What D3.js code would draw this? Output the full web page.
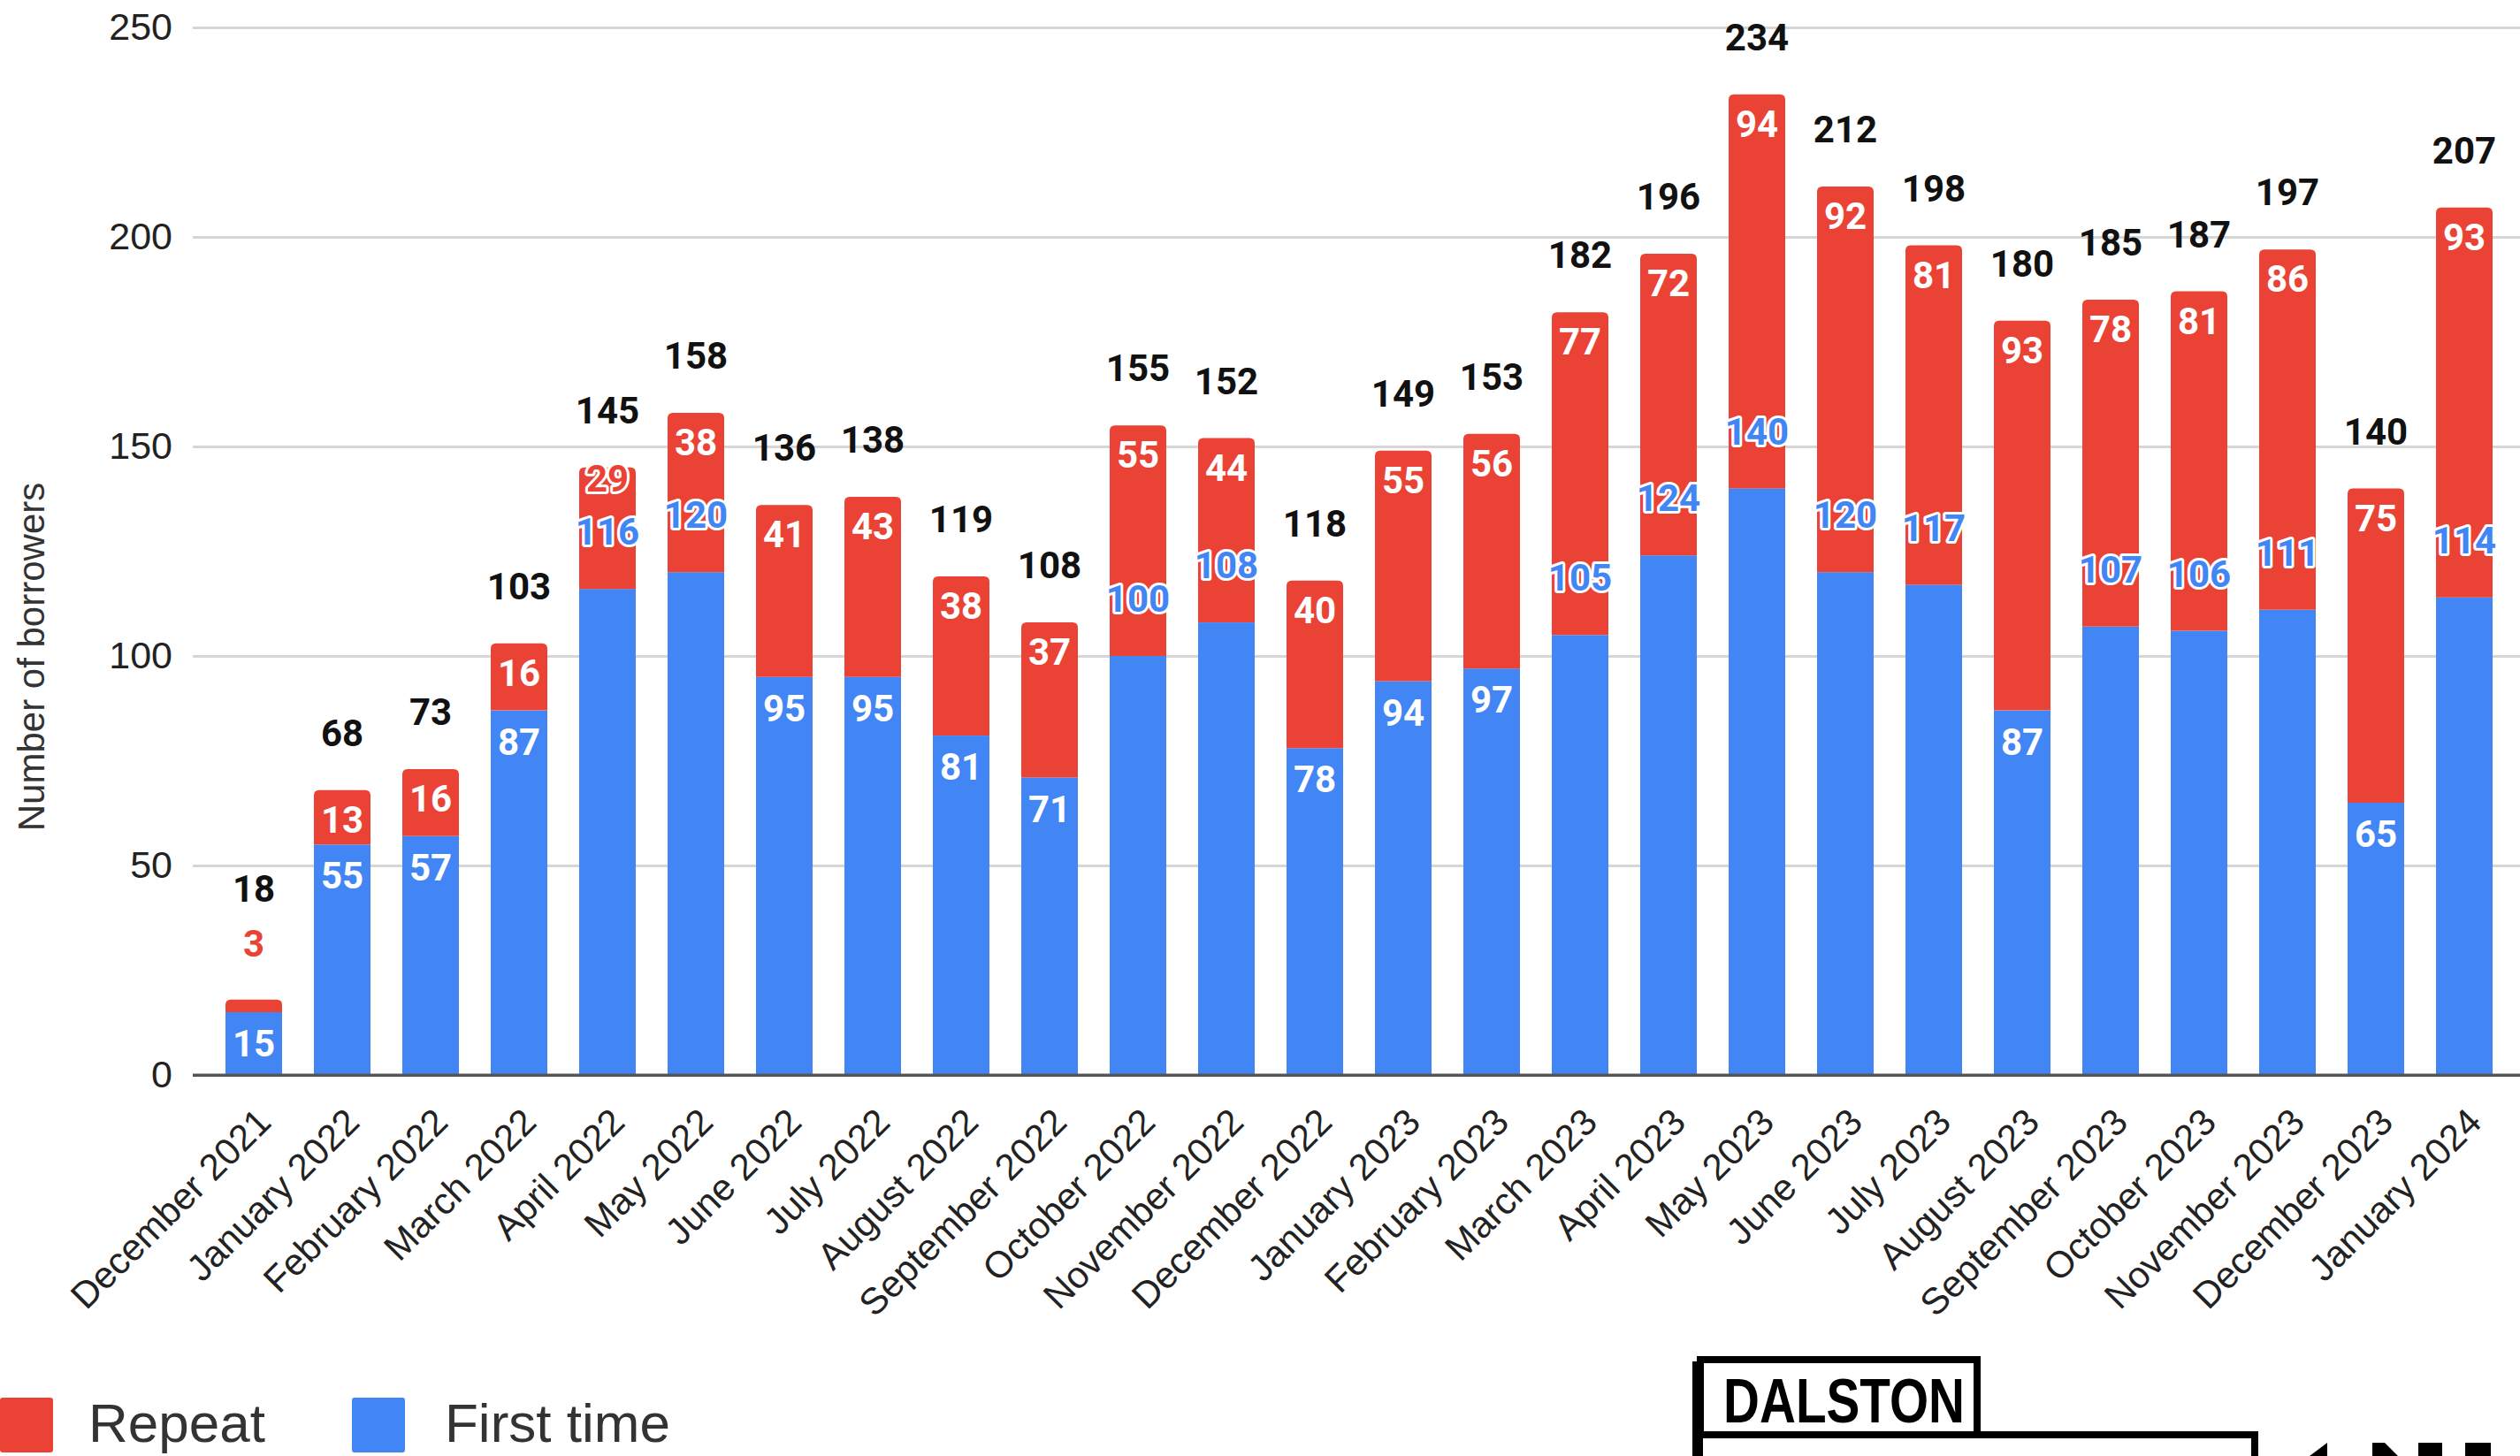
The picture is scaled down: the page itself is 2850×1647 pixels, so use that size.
<!DOCTYPE html>
<html>
<head>
<meta charset="utf-8">
<script src="https://cdn.jsdelivr.net/npm/d3@7"></script>
<style>
  html, body { margin: 0; padding: 0; background: #fff; }
  svg { display: block; }
</style>
</head>
<body>
<svg id="chart" width="2850" height="1647"></svg>
<script>
// Monthly borrowers, split into first-time and repeat borrowers
const months = [
  "December 2021", "January 2022", "February 2022", "March 2022", "April 2022",
  "May 2022", "June 2022", "July 2022", "August 2022", "September 2022",
  "October 2022", "November 2022", "December 2022", "January 2023", "February 2023",
  "March 2023", "April 2023", "May 2023", "June 2023", "July 2023",
  "August 2023", "September 2023", "October 2023", "November 2023", "December 2023",
  "January 2024"
];
const firstTime = [15, 55, 57, 87, 116, 120, 95, 95, 81, 71, 100, 108, 78, 94, 97, 105, 124, 140, 120, 117, 87, 107, 106, 111, 65, 114];
const repeat    = [3, 13, 16, 16, 29, 38, 41, 43, 38, 37, 55, 44, 40, 55, 56, 77, 72, 94, 92, 81, 93, 78, 81, 86, 75, 93];
const yTicks = [0, 50, 100, 150, 200, 250];
const seriesNames = ["Repeat", "First time"];

const RED = "#EA4335", BLUE = "#4285F4";
const W = 2850, H = 1647;
const plotLeft = 218, plotBottom = 1216, plotTop = 31;
const LABEL_SIZE = 42;

const svg = d3.select("#chart");

const x = d3.scaleBand().domain(months)
  .range([plotLeft, 2856]).paddingInner(0.36).paddingOuter(0.37);
const y = d3.scaleLinear().domain([0, 250]).range([plotBottom, plotTop]);

// gridlines + y tick labels
const yAxis = svg.append("g").attr("transform", `translate(${plotLeft},0)`)
  .call(d3.axisLeft(y).tickValues(yTicks).tickSize(-(W - plotLeft)).tickPadding(23));
yAxis.select(".domain").remove();
yAxis.selectAll(".tick line")
  .attr("stroke", d => d === 0 ? "#555" : "#d6d6d6")
  .attr("stroke-width", 3);
yAxis.selectAll(".tick text")
  .attr("font-family", "'Liberation Sans', Arial, sans-serif")
  .attr("font-size", 43).attr("fill", "#222");

// y axis title
svg.append("text")
  .attr("transform", "translate(35,743) rotate(-90)")
  .attr("text-anchor", "middle").attr("dy", "0.36em")
  .attr("font-family", "'Liberation Sans', Arial, sans-serif")
  .attr("font-size", 42).attr("fill", "#333")
  .text("Number of borrowers");

// rows derived from the arrays
const rows = months.map((m, i) => ({
  month: m, first: firstTime[i], rep: repeat[i], total: firstTime[i] + repeat[i]
}));

// rectangle with rounded top corners
function topRounded(x0, y0, w, h, r) {
  r = Math.min(r, h, w / 2);
  return `M${x0},${y0 + h}V${y0 + r}Q${x0},${y0} ${x0 + r},${y0}H${x0 + w - r}Q${x0 + w},${y0} ${x0 + w},${y0 + r}V${y0 + h}Z`;
}

const bw = x.bandwidth();
const bars = svg.append("g");
bars.selectAll("rect.first").data(rows).join("rect")
  .attr("class", "first")
  .attr("x", d => x(d.month)).attr("width", bw)
  .attr("y", d => y(d.first)).attr("height", d => y(0) - y(d.first))
  .attr("fill", BLUE);
bars.selectAll("path.rep").data(rows).join("path")
  .attr("class", "rep")
  .attr("d", d => topRounded(x(d.month), y(d.total), bw, y(d.first) - y(d.total), 6))
  .attr("fill", RED);

// zero baseline drawn over the bars' bottom edge
svg.append("line").attr("x1", plotLeft).attr("x2", W)
  .attr("y1", y(0)).attr("y2", y(0)).attr("stroke", "#555").attr("stroke-width", 3);

// x axis month labels
const xAxis = svg.append("g").attr("transform", `translate(0,${plotBottom})`)
  .call(d3.axisBottom(x).tickSize(0));
xAxis.select(".domain").remove();
xAxis.selectAll(".tick text")
  .attr("x", 0).attr("y", 0).attr("dy", "0.36em")
  .attr("transform", "translate(11,45) rotate(-45)")
  .style("text-anchor", "end")
  .attr("font-family", "'Liberation Sans', Arial, sans-serif")
  .attr("font-size", 42).attr("fill", "#222");

// data label layout
const labelFont = "Roboto, 'Liberation Sans', Arial, sans-serif";
const fits = v => String(v).length * 0.56 * LABEL_SIZE < bw - 4;
const labels = [];
rows.forEach(d => {
  const cx = x(d.month) + bw / 2;
  // first-time label: inside the top of the blue segment, or just above it
  const blueInside = fits(d.first) && (y(0) - y(d.first)) > LABEL_SIZE;
  const blueY = blueInside ? y(d.first) + 35 : y(d.first) - 65;
  labels.push({ x: cx, y: blueY, text: d.first, fill: blueInside ? "#fff" : BLUE, halo: !blueInside });
  // repeat label
  const segH = y(d.first) - y(d.total);
  let redY, redInside = segH > LABEL_SIZE && fits(d.rep);
  if (redInside) {
    redY = y(d.total) + 33;
    if (!blueInside && Math.abs(blueY - redY) < LABEL_SIZE + 2) {
      redInside = false;
      redY = blueY - 60;
    }
  } else {
    redY = y(d.total) - 64;
  }
  labels.push({ x: cx, y: redY, text: d.rep, fill: redInside ? "#fff" : RED, halo: !redInside });
  // total label
  const totalY = (!redInside && redY < y(d.total)) ? redY - 62 : y(d.total) - 65;
  labels.push({ x: cx, y: totalY, text: d.total, fill: "#111", halo: false });
});

svg.append("g").selectAll("text").data(labels).join("text")
  .attr("x", d => d.x).attr("y", d => d.y).attr("dy", "0.36em")
  .attr("text-anchor", "middle")
  .attr("font-family", labelFont).attr("font-weight", 700)
  .attr("font-size", LABEL_SIZE)
  .attr("fill", d => d.fill)
  .attr("stroke", d => d.halo ? "#fff" : "none")
  .attr("stroke-width", d => d.halo ? 6 : 0)
  .attr("stroke-linejoin", "round")
  .attr("paint-order", "stroke")
  .text(d => d.text);

// legend
const legend = svg.append("g");
const legendItems = [
  { name: seriesNames[0], color: RED, sx: 0, tx: 100 },
  { name: seriesNames[1], color: BLUE, sx: 398, tx: 503 }
];
legend.selectAll("rect").data(legendItems).join("rect")
  .attr("x", d => d.sx).attr("y", 1581).attr("width", 60).attr("height", 62)
  .attr("rx", 3).attr("fill", d => d.color);
legend.selectAll("text").data(legendItems).join("text")
  .attr("x", d => d.tx).attr("y", 1631)
  .attr("font-family", "'Liberation Sans', Arial, sans-serif")
  .attr("font-size", 62).attr("fill", "#333")
  .text(d => d.name);

// Dalston logo mark
const logo = svg.append("g");
logo.append("rect").attr("x", 1923).attr("y", 1538).attr("width", 313).attr("height", 85)
  .attr("fill", "#fff").attr("stroke", "#000").attr("stroke-width", 8);
logo.append("path").attr("d", "M1923,1623H2550V1660")
  .attr("fill", "none").attr("stroke", "#000").attr("stroke-width", 8);
logo.append("line").attr("x1", 1920).attr("x2", 1920).attr("y1", 1540).attr("y2", 1660)
  .attr("stroke", "#000").attr("stroke-width", 12);
logo.append("text").attr("x", 1949).attr("y", 1609)
  .attr("font-family", "'Liberation Sans', Arial, sans-serif").attr("font-weight", 700)
  .attr("font-size", 70).attr("textLength", 273).attr("lengthAdjust", "spacingAndGlyphs")
  .attr("fill", "#000").text("DALSTON");
logo.append("path").attr("d", "M2632,1632V1647H2612Z").attr("fill", "#000");
logo.append("path").attr("d", "M2683,1632H2697L2712,1647H2683Z").attr("fill", "#000");
logo.append("rect").attr("x", 2735).attr("y", 1632).attr("width", 27).attr("height", 15).attr("fill", "#000");
logo.append("rect").attr("x", 2788).attr("y", 1632).attr("width", 29).attr("height", 15).attr("fill", "#000");
</script>
</body>
</html>
